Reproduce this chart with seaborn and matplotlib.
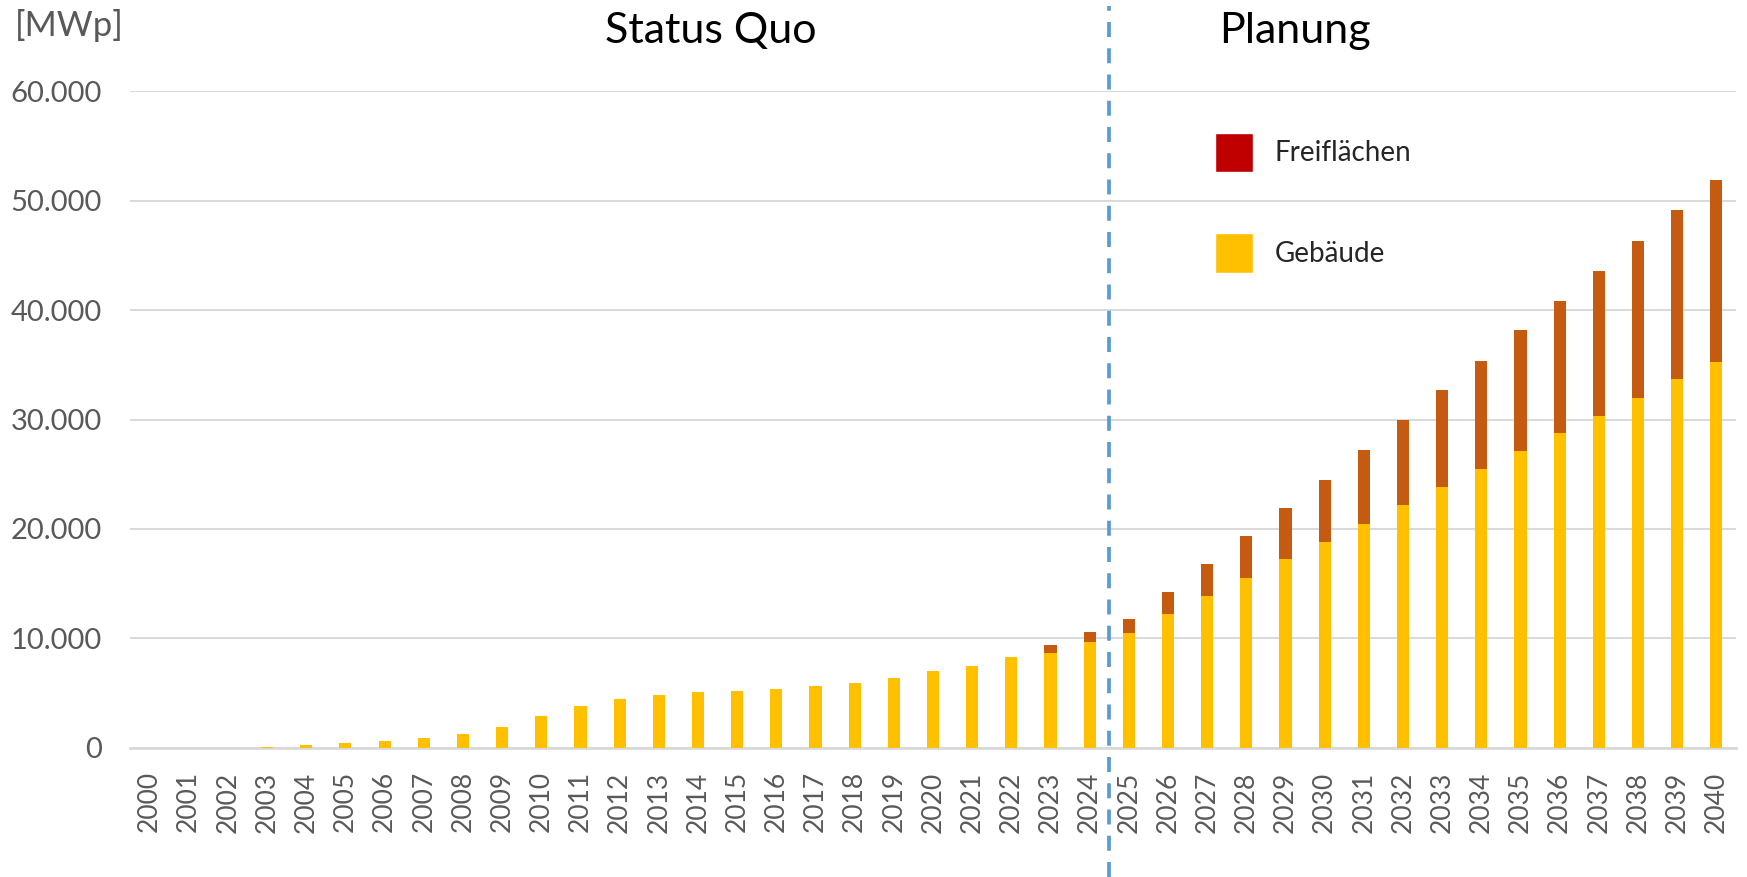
import numpy as np
import pandas as pd
import matplotlib.pyplot as plt
import seaborn as sns
from matplotlib.patches import Patch
from matplotlib.ticker import FuncFormatter

# ── DATA (MWp) ───────────────────────────────────────────────────────────
years = list(range(2000, 2041))
gebaeude = [0, 0, 0, 50, 200, 400, 600, 880, 1240, 1890, 2900, 3850, 4430, 4800,
            5050, 5200, 5400, 5600, 5900, 6400, 7000, 7460, 8250, 8650, 9650,
            10510, 12190, 13850, 15480, 17210, 18840, 20470, 22200, 23830, 25460,
            27100, 28730, 30340, 31990, 33690, 35300]
gesamt = [0, 0, 0, 50, 200, 400, 600, 880, 1240, 1890, 2900, 3850, 4430, 4800,
          5050, 5200, 5400, 5600, 5900, 6400, 7000, 7460, 8250, 9420, 10570,
          11730, 14260, 16800, 19350, 21900, 24440, 27190, 29940, 32690, 35340,
          38150, 40850, 43600, 46360, 49110, 51860]
freiflaechen = [t - g for t, g in zip(gesamt, gebaeude)]

section_labels = ['Status Quo', 'Planung']
unit_label = '[MWp]'

df = pd.DataFrame({'Jahr': [str(y) for y in years],
                   'Gebäude': gebaeude,
                   'Gesamt': gesamt})

# ── STYLE ─────────────────────────────────────────────────────────────────
sns.set_theme(style='white')
plt.rcParams['font.family'] = ['Lato', 'DejaVu Sans']

grey = '#595959'
c_geb = '#FFC000'
c_frei = '#C55A11'
c_frei_legend = '#C00000'

fig = plt.figure(figsize=(17.47, 8.77), dpi=100)
ax = fig.add_axes([0.0744, 0.1475, 0.9193, 0.7483])

# stacked bars: total first, Gebäude on top of it
sns.barplot(data=df, x='Jahr', y='Gesamt', color=c_frei, width=0.31,
            saturation=1, linewidth=0, ax=ax, zorder=3)
sns.barplot(data=df, x='Jahr', y='Gebäude', color=c_geb, width=0.31,
            saturation=1, linewidth=0, ax=ax, zorder=3)

ax.set_xlim(-0.5, len(years) - 0.5)
ax.set_ylim(0, 60000)
ax.set_yticks(np.arange(0, 60001, 10000))
ax.yaxis.set_major_formatter(FuncFormatter(lambda v, p: f'{v:,.0f}'.replace(',', '.')))
ax.grid(axis='y', color='#D9D9D9', linewidth=1.4, zorder=0)
ax.set_axisbelow(True)
for s in ['top', 'right', 'left']:
    ax.spines[s].set_visible(False)
ax.spines['bottom'].set_color('#D9D9D9')
ax.spines['bottom'].set_linewidth(2)
ax.set_xlabel('')
ax.set_ylabel('')
ax.tick_params(axis='x', labelrotation=90, labelsize=19, colors=grey, pad=17, length=0)
ax.tick_params(axis='y', labelsize=21, colors=grey, pad=20, length=0)

# separator between status quo and planning
ax.axvline(24.5, ymin=-0.197, ymax=1.13, clip_on=False, color='#5B9BD5',
           linewidth=2.7, dashes=(4, 3), zorder=5)

fig.text(711 / 1747, 1 - 31 / 877, section_labels[0], fontsize=31, ha='center', va='center', color='black')
fig.text(1295 / 1747, 1 - 31 / 877, section_labels[1], fontsize=31, ha='center', va='center', color='black')
fig.text(15 / 1747, 1 - 26 / 877, unit_label, fontsize=25, ha='left', va='center', color=grey)

handles = [Patch(facecolor=c_frei_legend, label='Freiflächen'),
           Patch(facecolor=c_geb, label='Gebäude')]
ax.legend(handles=handles, loc='upper left', bbox_to_anchor=(0.66, 0.975), frameon=False,
          fontsize=20, handlelength=1.36, handleheight=1.8, handletextpad=0.8,
          labelspacing=2.2)

fig.savefig('out.png', dpi=100)
